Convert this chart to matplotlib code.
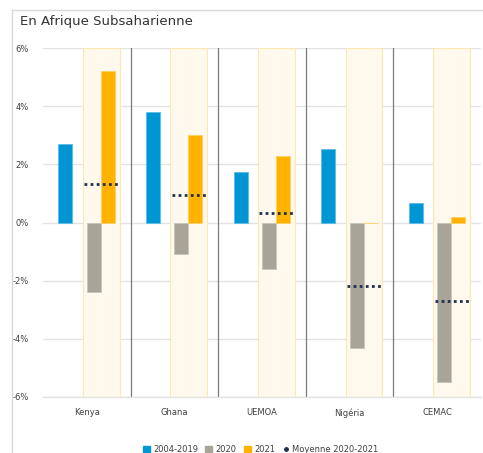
import numpy as np
import matplotlib.pyplot as plt
from matplotlib.lines import Line2D
from matplotlib.patches import Patch

categories = ['Kenya', 'Ghana', 'UEMOA', 'Nigéria', 'CEMAC']
avg_2004_2019 = [2.7, 3.8, 1.75, 2.52, 0.66]
val_2020 = [-2.4, -1.1, -1.6, -4.3, -5.5]
val_2021 = [5.2, 3.0, 2.3, 0.0, 0.18]
mean_2020_2021 = [1.32, 0.93, 0.33, -2.2, -2.7]
yticks = [-6, -4, -2, 0, 2, 4, 6]

blue = '#0096d6'
grey = '#a8a498'
orange = '#ffb300'
navy = '#1f3050'

fig = plt.figure(figsize=(4.83, 4.53), dpi=100)
ax = fig.add_axes([43/483, 1 - 397/453, 438/483, 349/453])

x = np.arange(len(categories))
w = 0.16

# shaded band behind 2020/2021
ax.bar(x + 0.165, [12] * len(x), bottom=-6, width=0.42, color='#fff8ec',
       edgecolor='#fde7b3', linewidth=0.8, zorder=1)

ax.bar(x - 0.244, avg_2004_2019, width=w, color=blue, edgecolor='#5bbde6', linewidth=0.6, zorder=3)
ax.bar(x + 0.08, val_2020, width=w, color=grey, edgecolor='#c8c5bb', linewidth=0.6, zorder=3)
ax.bar(x + 0.24, val_2021, width=w, color=orange, edgecolor='#ffcf5e', linewidth=0.6, zorder=3)

for i, m in enumerate(mean_2020_2021):
    ax.plot([i - 0.03, i + 0.37], [m, m], color=navy, lw=2.0,
            linestyle=(0, (1, 1.2)), dash_capstyle='butt', zorder=4)

# dividers between groups
for b in x[1:] - 0.5:
    ax.axvline(b, color='#7a7a7a', lw=0.9, zorder=2)

ax.set_xlim(-0.5, 4.5)
ax.set_ylim(-6, 6)
ax.set_yticks(yticks)
ax.set_yticklabels([f'{t}%' for t in yticks])
ax.set_xticks(x)
ax.set_xticklabels(categories)
ax.tick_params(axis='both', length=0, labelsize=6, colors='#404040')
ax.tick_params(axis='y', pad=10)
ax.tick_params(axis='x', pad=8)
ax.yaxis.grid(True, color='#e3e3e3', lw=1.0, zorder=0)
ax.set_axisbelow(True)
for s in ['top', 'right', 'left']:
    ax.spines[s].set_visible(False)
ax.spines['bottom'].set_color('#e3e3e3')
ax.spines['bottom'].set_linewidth(1.0)

# panel frame
fig.add_artist(Line2D([12/483, 12/483], [0, 1 - 10/453], color='#d9d9d9', lw=1.0))
fig.add_artist(Line2D([12/483, 1], [1 - 10/453, 1 - 10/453], color='#d9d9d9', lw=1.0))
fig.text(20/483, 1 - 22/453, 'En Afrique Subsaharienne', fontsize=9.5,
         color='#333333', va='center', ha='left')

handles = [Patch(color=blue, label='2004-2019'),
           Patch(color=grey, label='2020'),
           Patch(color=orange, label='2021'),
           Line2D([], [], marker='o', color=navy, lw=0, markersize=2.5,
                  label='Moyenne 2020-2021')]
fig.legend(handles=handles, loc='center', bbox_to_anchor=(0.54, 0.008), ncol=4,
           frameon=False, fontsize=6, handlelength=0.8, handleheight=0.8,
           handletextpad=0.4, columnspacing=0.9, labelcolor='#404040')

fig.savefig('out.png', dpi=100)
